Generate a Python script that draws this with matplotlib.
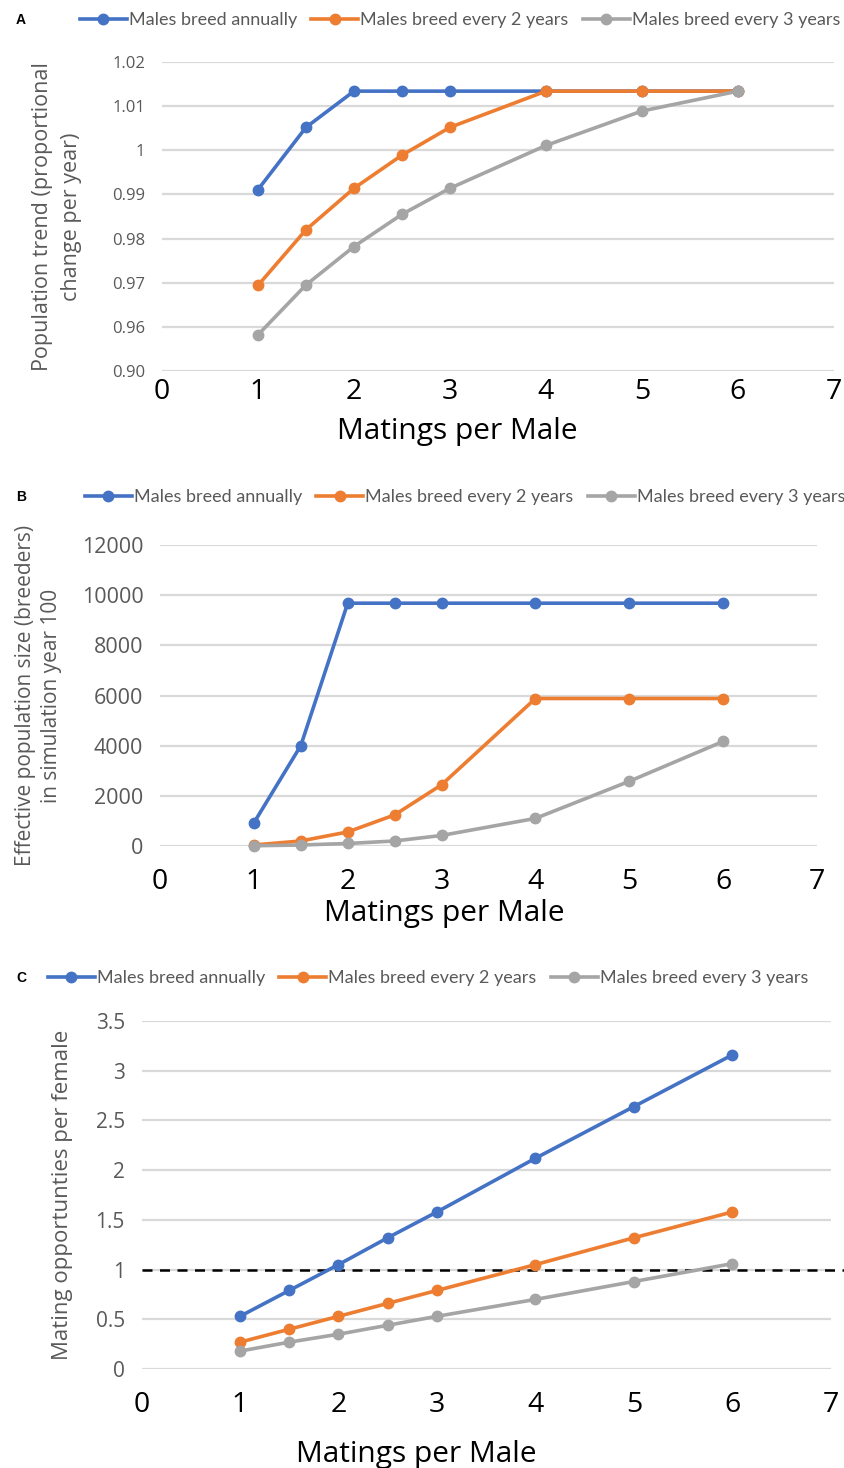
import matplotlib
matplotlib.use("Agg")
import matplotlib.pyplot as plt
from matplotlib.lines import Line2D

# matings per male (x values, shared by all panels)
matings = [1, 1.5, 2, 2.5, 3, 4, 5, 6]
series_names = ["Males breed annually", "Males breed every 2 years", "Males breed every 3 years"]
colors = ["#4472C4", "#ED7D31", "#A5A5A5"]

# Panel A: population trend (0.95 is drawn where the axis is labelled 0.90)
trend_annual = [0.9911, 1.0052, 1.0134, 1.0134, 1.0134, 1.0134, 1.0134, 1.0134]
trend_2yr = [0.9694, 0.9820, 0.9914, 0.9989, 1.0052, 1.0134, 1.0134, 1.0134]
trend_3yr = [0.9582, 0.9695, 0.9782, 0.9855, 0.9914, 1.0011, 1.0089, 1.0134]
a_ticks = [0.95, 0.96, 0.97, 0.98, 0.99, 1.00, 1.01, 1.02]
a_ticklabels = ["0.90", "0.96", "0.97", "0.98", "0.99", "1", "1.01", "1.02"]

# Panel B: effective population size
ne_annual = [920, 4000, 9680, 9680, 9680, 9680, 9680, 9680]
ne_2yr = [40, 200, 560, 1240, 2440, 5880, 5880, 5880]
ne_3yr = [10, 40, 100, 200, 420, 1100, 2580, 4170]
b_ticks = [0, 2000, 4000, 6000, 8000, 10000, 12000]

# Panel C: mating opportunities per female
opp_annual = [0.53, 0.79, 1.05, 1.32, 1.58, 2.12, 2.64, 3.16]
opp_2yr = [0.27, 0.40, 0.53, 0.66, 0.79, 1.05, 1.32, 1.58]
opp_3yr = [0.18, 0.27, 0.35, 0.44, 0.53, 0.70, 0.88, 1.06]
c_ticks = [0, 0.5, 1, 1.5, 2, 2.5, 3, 3.5]
c_ticklabels = ["0", "0.5", "1", "1.5", "2", "2.5", "3", "3.5"]

x_ticks = [0, 1, 2, 3, 4, 5, 6, 7]

W, H = 845, 1468
fig = plt.figure(figsize=(W / 100, H / 100), dpi=100)
AX_FONT = "Open Sans"
LEG_FONT = "Lato"
GRAY_TXT = "#595959"
GRID = "#D9D9D9"


def make_axes(left, right, top, bottom):
    return fig.add_axes([left / W, 1 - bottom / H, (right - left) / W, (bottom - top) / H])


def style(ax, ylim, yticks, yticklabels, ytick_size, xpad, xlabelpad, label_x):
    ax.set_xlim(0, 7)
    ax.set_ylim(*ylim)
    ax.set_xticks(x_ticks)
    ax.set_xticklabels([str(t) for t in x_ticks], fontsize=20.5, family=AX_FONT, color="black")
    ax.set_yticks(yticks)
    ax.set_yticklabels(yticklabels, fontsize=ytick_size, family=AX_FONT, color=GRAY_TXT)
    ax.tick_params(axis="both", length=0)
    ax.tick_params(axis="x", pad=xpad)
    ax.tick_params(axis="y", pad=12)
    for s in ax.spines.values():
        s.set_visible(False)
    ax.yaxis.grid(True, color=GRID, linewidth=1.6)
    ax.set_axisbelow(True)
    ax.set_xlabel("Matings per Male", fontsize=21.5, family=AX_FONT, color="black", labelpad=xlabelpad)
    ax.xaxis.label.set_x(label_x)


def draw_series(ax, ys):
    for y, c in zip(ys, colors):
        ax.plot(matings, y, color=c, linewidth=2.6, marker="o", markersize=7.5, clip_on=False, zorder=3)


def legend(cx, cy, spacing):
    handles = [Line2D([0], [0], color=c, linewidth=2.6, marker="o", markersize=7.5) for c in colors]
    fig.legend(handles, series_names, loc="center", bbox_to_anchor=(cx / W, 1 - cy / H), ncol=3,
               frameon=False, handlelength=2.6, handletextpad=0.1, columnspacing=spacing,
               prop={"family": LEG_FONT, "size": 13}, labelcolor=GRAY_TXT)


# ---- Panel A
axA = make_axes(162, 834, 62, 371)
draw_series(axA, [trend_annual, trend_2yr, trend_3yr])
style(axA, (0.95, 1.02), a_ticks, a_ticklabels, 12, 5, 8, 0.44)
axA.set_ylabel("Population trend (proportional\nchange per year)", fontsize=15.5, family=AX_FONT,
               color=GRAY_TXT, labelpad=22, linespacing=1.45)
legend(460, 20, 0.8)
fig.text(16 / W, 1 - 20 / H, "A", fontsize=10, fontweight="bold", family="Liberation Sans", va="center")

# ---- Panel B
axB = make_axes(160, 817, 545, 846)
draw_series(axB, [ne_annual, ne_2yr, ne_3yr])
style(axB, (0, 12000), b_ticks, [str(t) for t in b_ticks], 15.5, 16, 2, 0.432)
axB.set_ylabel("Effective population size (breeders)\nin simulation year 100", fontsize=15,
               family=AX_FONT, color=GRAY_TXT, labelpad=14, linespacing=1.3)
legend(465, 497, 0.8)
fig.text(16 / W, 1 - 497 / H, "B", fontsize=10, fontweight="bold", family="Liberation Sans", va="center")

# ---- Panel C
axC = make_axes(141.5, 831, 1021, 1369)
draw_series(axC, [opp_annual, opp_2yr, opp_3yr])
axC.axhline(1, xmin=0, xmax=1.02, color="black", linewidth=1.8, linestyle=(0, (4, 3)), clip_on=False, zorder=2)
style(axC, (0, 3.5), c_ticks, c_ticklabels, 15, 16, 15, 0.398)
axC.set_ylabel("Mating opportunties per female", fontsize=16, family=AX_FONT, color=GRAY_TXT, labelpad=16)
legend(428, 978, 0.8)
fig.text(16 / W, 1 - 978 / H, "C", fontsize=10, fontweight="bold", family="Liberation Sans", va="center")

fig.savefig("out.png", dpi=100, facecolor="white")
